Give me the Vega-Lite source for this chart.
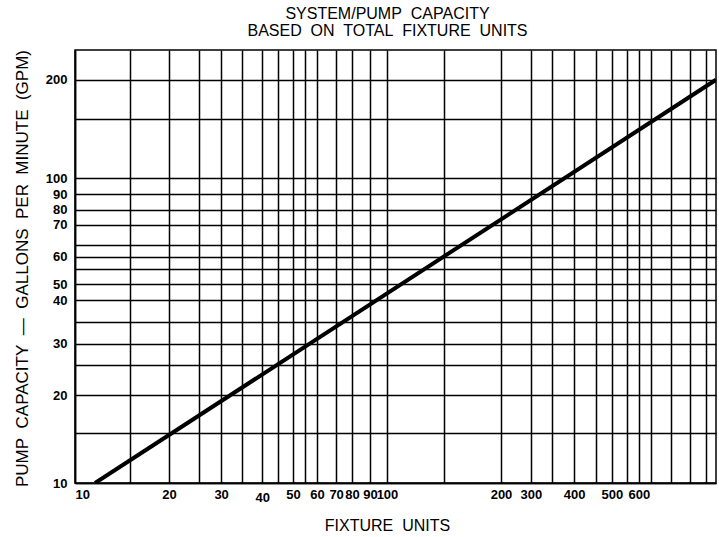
{
  "$schema": "https://vega.github.io/schema/vega-lite/v6.json",
  "autosize": {"type": "none"},
  "padding": {"left": 75, "top": 50, "right": 3, "bottom": 54},
  "width": 641,
  "height": 433,
  "background": "white",
  "title": {
    "text": ["SYSTEM/PUMP\u00a0 CAPACITY", "BASED\u00a0 ON\u00a0 TOTAL\u00a0 FIXTURE\u00a0 UNITS"],
    "anchor": "middle",
    "frame": "group",
    "font": "Liberation Sans",
    "fontSize": 16,
    "fontWeight": "normal",
    "lineHeight": 17,
    "color": "black",
    "offset": 10,
    "dx": -8
  },
  "data": {
    "values": [
      {"fixture_units": 11.6, "gpm": 10},
      {"fixture_units": 1134, "gpm": 210}
    ]
  },
  "mark": {"type": "line", "color": "black", "strokeWidth": 4, "strokeCap": "butt", "clip": true},
  "encoding": {
    "x": {
      "field": "fixture_units",
      "type": "quantitative",
      "scale": {"type": "log", "domain": [10, 1134], "nice": false, "zero": false},
      "axis": {
        "title": "FIXTURE\u00a0 UNITS",
        "values": [10, 15, 20, 25, 29.4, 34.3, 39.8, 44.7, 50, 54.6, 59.7, 68.7, 77.2, 88.2, 100, 152, 232, 289, 338, 398, 468, 526, 588, 642, 702, 813, 936, 1053],
        "labelExpr": "datum.value == 10 ? '10' : datum.value == 20 ? '20' : datum.value == 29.4 ? '30' : datum.value == 39.8 ? '40' : datum.value == 50 ? '50' : datum.value == 59.7 ? '60' : datum.value == 68.7 ? '70' : datum.value == 77.2 ? '80' : datum.value == 88.2 ? '90' : datum.value == 100 ? '100' : datum.value == 232 ? '200' : datum.value == 289 ? '300' : datum.value == 398 ? '400' : datum.value == 526 ? '500' : datum.value == 642 ? '600' : ''",
        "labelFlush": true,
        "labelOverlap": false,
        "labelPadding": {"condition": {"test": "datum.value == 39.8", "value": 8}, "value": 5},
        "titleX": 312,
        "titleY": 47,
        "titleBaseline": "alphabetic"
      }
    },
    "y": {
      "field": "gpm",
      "type": "quantitative",
      "scale": {"type": "log", "domain": [10, 262.9], "nice": false, "zero": false},
      "axis": {
        "title": "PUMP\u00a0 CAPACITY\u00a0 \u2014\u00a0 GALLONS\u00a0 PER\u00a0 MINUTE\u00a0 (GPM)",
        "values": [10, 14.6, 19.4, 24.4, 28.6, 33.7, 39.8, 44.9, 50.3, 55.1, 60.3, 70.2, 78.6, 88.6, 100, 156, 210],
        "labelExpr": "datum.value == 10 ? '10' : datum.value == 19.4 ? '20' : datum.value == 28.6 ? '30' : datum.value == 39.8 ? '40' : datum.value == 44.9 ? '50' : datum.value == 55.1 ? '60' : datum.value == 70.2 ? '70' : datum.value == 78.6 ? '80' : datum.value == 88.6 ? '90' : datum.value == 100 ? '100' : datum.value == 210 ? '200' : ''",
        "labelFlush": false,
        "labelOverlap": false,
        "labelPadding": 8,
        "titleX": -53,
        "titleY": 218,
        "titleAngle": -90,
        "titleAlign": "center",
        "titleBaseline": "middle",
        "titleFontSize": 17
      }
    }
  },
  "config": {
    "view": {"stroke": "black", "strokeWidth": 1.5},
    "axis": {
      "grid": true,
      "gridColor": "black",
      "gridWidth": 1.5,
      "gridOpacity": 1,
      "ticks": false,
      "domain": true,
      "domainColor": "black",
      "domainWidth": 1.5,
      "labelFont": "Liberation Sans",
      "labelFontSize": 13,
      "labelFontWeight": "bold",
      "labelColor": "black",
      "titleFont": "Liberation Sans",
      "titleFontSize": 16,
      "titleFontWeight": "normal",
      "titleColor": "black"
    }
  }
}
